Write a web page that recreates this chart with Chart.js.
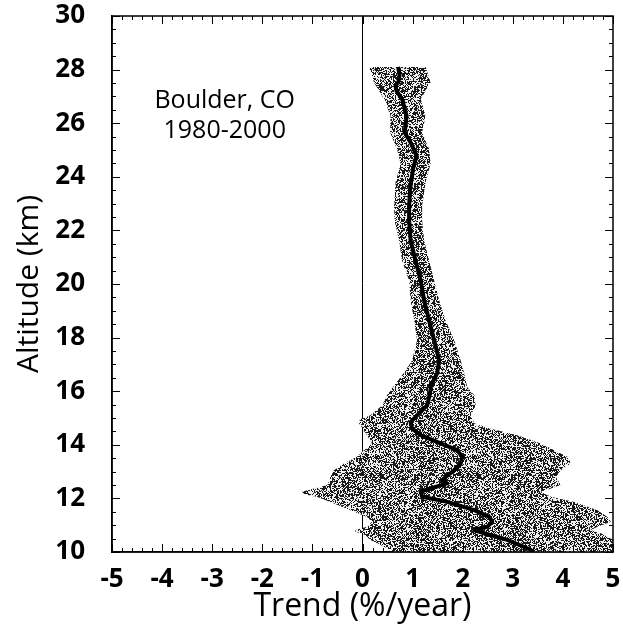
<!DOCTYPE html>
<html>
<head>
<meta charset="utf-8">
<script src="https://cdn.jsdelivr.net/npm/chart.js@4.4.0/dist/chart.umd.min.js"></script>
<style>
  html, body { margin: 0; padding: 0; background: #fff; }
  #wrap { width: 623px; height: 637px; }
</style>
</head>
<body>
<div id="wrap"><canvas id="trendChart"></canvas></div>
<script>
// mean trend profile (km, %/year)
const lineAlt = [28.1, 27.8, 27.55, 27.4, 27.2, 26.9, 26.28, 25.9, 25.65, 25.28, 24.79, 24.3, 23.56, 22.9, 22.37,
  21.62, 20.87, 20.13, 19.39, 18.64, 17.9, 17.15, 16.67, 16.22, 15.85, 15.47, 15.1, 14.85, 14.6, 14.36, 14.05,
  13.8, 13.55, 13.3, 13.05, 12.8, 12.68, 12.56, 12.37, 12.25, 12.06, 11.87, 11.56, 11.31, 11.13, 10.94, 10.82,
  10.7, 10.45, 10.14, 10.0];
const lineTrend = [0.71, 0.74, 0.72, 0.66, 0.68, 0.79, 0.88, 0.86, 0.84, 0.96, 1.08, 1.01, 0.95, 0.93, 0.93,
  0.96, 1.06, 1.16, 1.23, 1.33, 1.43, 1.53, 1.49, 1.37, 1.34, 1.29, 1.09, 0.96, 0.99, 1.16, 1.56,
  1.89, 1.99, 1.96, 1.83, 1.66, 1.59, 1.69, 1.36, 1.16, 1.19, 1.69, 2.23, 2.53, 2.59, 2.49, 2.23,
  2.43, 2.89, 3.29, 3.43];

// uncertainty envelope
const bandAlt = [28.1, 27.52, 26.9, 26.28, 25.65, 25.03, 24.5, 23.8, 22.9, 22.37, 21.62, 20.87, 20.13, 19.39,
  18.64, 17.9, 17.15, 16.67, 16.16, 15.85, 15.47, 15.1, 14.95, 14.8, 14.6, 14.36, 14.05, 13.8, 13.55, 13.3,
  13.05, 12.8, 12.5, 12.37, 12.25, 12.15, 12.06, 11.87, 11.56, 11.31, 11.13, 10.94, 10.82, 10.75, 10.7, 10.45,
  10.14, 10.0];
const bandLow = [0.13, 0.23, 0.43, 0.56, 0.55, 0.69, 0.76, 0.66, 0.63, 0.64, 0.73, 0.79, 0.93, 0.96,
  1.03, 1.09, 0.99, 0.82, 0.61, 0.49, 0.39, 0.16, -0.05, -0.07, 0.0, 0.09, 0.19, 0.03, -0.11, -0.37,
  -0.57, -0.64, -0.7, -0.97, -1.21, -1.15, -0.91, -0.64, -0.24, 0.09, 0.19, 0.09, -0.14, -0.14, 0.0, 0.16,
  0.49, 0.63];
const bandHigh = [1.26, 1.36, 1.16, 1.26, 1.19, 1.33, 1.36, 1.26, 1.19, 1.19, 1.23, 1.33, 1.43, 1.53,
  1.66, 1.83, 1.96, 2.03, 2.09, 2.23, 2.26, 2.16, 2.2, 2.23, 2.56, 3.09, 3.56, 3.83, 4.09, 4.16,
  3.96, 3.86, 3.96, 3.76, 3.56, 3.66, 3.76, 4.23, 4.69, 4.89, 4.96, 4.69, 4.56, 4.66, 4.76, 5.0,
  5.0, 5.0];

const siteLabel = ['Boulder, CO', '1980-2000'];

const linePoints = lineAlt.map((a, i) => ({ x: lineTrend[i], y: a }));
const bandPoints = bandAlt.map((a, i) => ({ x: bandLow[i], y: a }))
  .concat(bandAlt.map((a, i) => ({ x: bandHigh[i], y: a })).reverse());

// grainy grey fill like the printed stipple
function stipple() {
  const n = 97;
  const c = document.createElement('canvas');
  c.width = n; c.height = n;
  const g = c.getContext('2d');
  const img = g.createImageData(n, n);
  for (let i = 0; i < n * n; i++) {
    const h = Math.sin(i * 12.9898 + 78.233) * 43758.5453;
    const v = (h - Math.floor(h)) < 0.52 ? 25 : 240;
    img.data[i * 4] = img.data[i * 4 + 1] = img.data[i * 4 + 2] = v;
    img.data[i * 4 + 3] = 255;
  }
  g.putImageData(img, 0, 0);
  return g.createPattern(c, 'repeat');
}

const frameTicks = {
  id: 'frameTicks',
  afterDraw(chart) {
    const { ctx, chartArea: a, scales: { x, y } } = chart;
    ctx.save();
    ctx.strokeStyle = '#000';
    ctx.lineWidth = 1.5;
    ctx.strokeRect(a.left, a.top, a.right - a.left, a.bottom - a.top);
    ctx.lineWidth = 1;
    ctx.beginPath();
    for (let i = -25; i <= 25; i++) {
      const px = Math.round(x.getPixelForValue(i / 5)) + 0.5;
      const len = i % 5 === 0 ? 8 : 4;
      ctx.moveTo(px, a.bottom); ctx.lineTo(px, a.bottom - len);
      ctx.moveTo(px, a.top); ctx.lineTo(px, a.top + len);
    }
    for (let i = 20; i <= 60; i++) {
      const py = Math.round(y.getPixelForValue(i / 2)) + 0.5;
      const len = i % 4 === 0 ? 8 : 4;
      ctx.moveTo(a.left, py); ctx.lineTo(a.left + len, py);
      ctx.moveTo(a.right, py); ctx.lineTo(a.right - len, py);
    }
    ctx.stroke();

    ctx.fillStyle = '#000';
    ctx.font = '25px "Open Sans"';
    ctx.textAlign = 'center';
    ctx.textBaseline = 'middle';
    const cx = x.getPixelForValue(-2.75);
    ctx.fillText(siteLabel[0], cx, y.getPixelForValue(26.83));
    ctx.fillText(siteLabel[1], cx, y.getPixelForValue(25.72));
    ctx.restore();
  }
};

const tickFont = { family: '"Open Sans"', size: 26, weight: 'bold' };

new Chart(document.getElementById('trendChart'), {
  type: 'scatter',
  data: {
    datasets: [
      {
        label: 'Trend',
        data: linePoints,
        showLine: true,
        borderColor: '#000',
        borderWidth: 4,
        borderJoinStyle: 'round',
        pointRadius: 0,
        order: 1
      },
      {
        label: 'Uncertainty',
        data: bandPoints,
        showLine: true,
        borderWidth: 0,
        borderColor: 'rgba(0,0,0,0)',
        backgroundColor: stipple(),
        fill: 'shape',
        pointRadius: 0,
        order: 2
      }
    ]
  },
  options: {
    responsive: true,
    maintainAspectRatio: false,
    animation: false,
    layout: { padding: { top: 16, right: 10, left: 0, bottom: 0 } },
    plugins: { legend: { display: false }, tooltip: { enabled: false } },
    scales: {
      x: {
        type: 'linear',
        min: -5,
        max: 5,
        afterFit: s => { s.height = 85; s.paddingLeft = 0; s.paddingRight = 0; },
        ticks: { stepSize: 1, color: '#000', font: tickFont, padding: 12, maxRotation: 0 },
        grid: {
          drawTicks: false,
          color: c => (c.tick && c.tick.value === 0 ? '#000' : 'rgba(0,0,0,0)'),
          lineWidth: 1
        },
        border: { display: true, color: '#000', width: 1.5 },
        title: {
          display: true,
          text: 'Trend (%/year)',
          color: '#000',
          font: { family: '"Open Sans"', size: 32 },
          padding: { top: 0, bottom: 11 }
        }
      },
      y: {
        type: 'linear',
        min: 10,
        max: 30,
        afterFit: s => { s.width = 112; s.paddingTop = 0; s.paddingBottom = 0; },
        ticks: { stepSize: 2, color: '#000', font: tickFont, padding: 27 },
        grid: { display: false, drawTicks: false },
        border: { display: true, color: '#000', width: 1.5 },
        title: {
          display: true,
          text: 'Altitude (km)',
          color: '#000',
          font: { family: '"Open Sans"', size: 30 },
          padding: { top: 11, bottom: 0 }
        }
      }
    }
  },
  plugins: [frameTicks]
});
</script>
</body>
</html>
